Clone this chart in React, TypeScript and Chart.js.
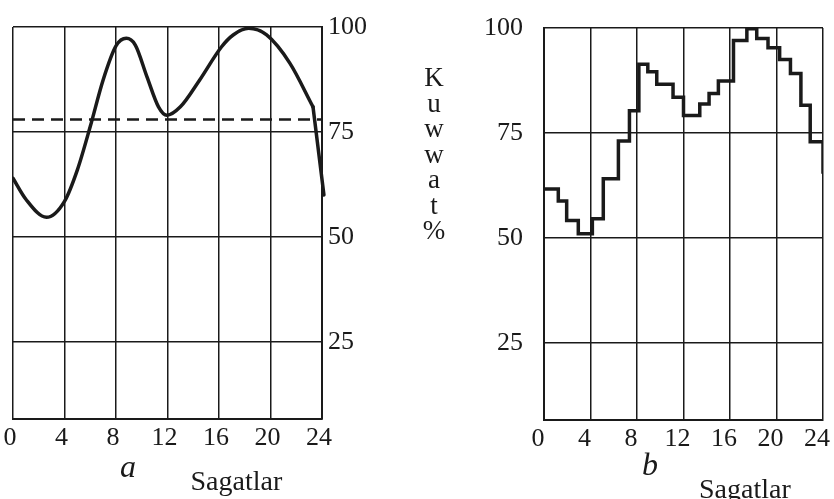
import React, { useEffect, useRef } from "react";
import { Chart, registerables } from "chart.js";

Chart.register(...registerables);

// ---- data ----
const hourTicks = [0, 4, 8, 12, 16, 20, 24];
const powerTicks = [25, 50, 75, 100];

// chart a: smooth daily load curve
const curveHours = [0, 1, 2.6, 4, 5, 6, 7, 8, 8.8, 9.5, 10.4, 11.3, 11.95, 13, 14.5, 16.2, 17.1, 18.3, 19.7, 21.5, 23.3];
const curveValues = [64, 59, 54.7, 58.5, 66, 76.3, 87.4, 95.5, 97.3, 95.7, 88.2, 81, 79, 81, 87.4, 95.3, 98.1, 99.7, 98.1, 91.4, 81];
// final steep drop of curve a
const dropHours = [23.3, 24.15];
const dropValues = [81, 60];
// dashed average line of chart a
const averageHours = [0, 24];
const averageValues = [78, 78];

// chart b: stepped load graph (start hour of each step, its level)
const stepHours = [0, 1.23, 1.95, 2.95, 4.16, 5.1, 6.4, 7.35, 8.16, 8.93, 9.7, 11.1, 12.0, 13.4, 14.2, 15.0, 16.3, 17.45, 18.3, 19.27, 20.27, 21.2, 22.1, 22.9, 24];
const stepValues = [61.7, 58.8, 54.2, 51.0, 54.6, 64.1, 73.1, 80.3, 91.4, 89.6, 86.6, 83.5, 79.2, 81.9, 84.4, 87.4, 97.0, 99.8, 97.5, 95.3, 92.5, 89.2, 81.6, 72.9, 65.3];

const axisTitle = "Kuwwat%";
const xTitle = "Sagatlar";
const leftLetter = "a";
const rightLetter = "b";

const FONT = "'Liberation Serif', 'Times New Roman', serif";
const INK = "#1a1a1a";

function zip(xs: number[], ys: number[]) {
  return xs.map((x, i) => ({ x, y: ys[i] }));
}

function scales(side: "left" | "right") {
  const isLeft = side === "left";
  return {
    x: {
      type: "linear" as const,
      position: "bottom" as const,
      min: 0,
      max: 24,
      afterBuildTicks: (s: any) => {
        s.ticks = hourTicks.map((v) => ({ value: v }));
      },
      afterFit: (s: any) => {
        s.height = isLeft ? 80 : 79;
        s.paddingLeft = 0;
        s.paddingRight = 0;
      },
      grid: { color: INK, lineWidth: 1.5, drawTicks: false },
      border: { color: INK, width: 2 },
      ticks: {
        font: { family: FONT, size: 26 },
        color: INK,
        padding: 4,
        labelOffset: isLeft ? -3 : -6,
        maxRotation: 0,
        autoSkip: false,
      },
    },
    y: {
      type: "linear" as const,
      position: (isLeft ? "right" : "left") as any,
      min: 6.7,
      max: 100,
      afterBuildTicks: (s: any) => {
        s.ticks = powerTicks.map((v) => ({ value: v }));
      },
      afterFit: (s: any) => {
        s.width = isLeft ? 98 : 74;
        s.paddingTop = 0;
        s.paddingBottom = 0;
      },
      grid: { color: INK, lineWidth: 1.5, drawTicks: false },
      border: { color: INK, width: 2 },
      ticks: {
        font: { family: FONT, size: 26 },
        color: INK,
        padding: isLeft ? 6 : 21,
      },
    },
  };
}

export default function App() {
  const leftRef = useRef<HTMLCanvasElement>(null);
  const rightRef = useRef<HTMLCanvasElement>(null);

  useEffect(() => {
    const common = {
      responsive: false,
      animation: false as const,
      plugins: { legend: { display: false }, tooltip: { enabled: false } },
      elements: { point: { radius: 0 } },
    };
    const left = new Chart(leftRef.current!, {
      type: "line",
      data: {
        datasets: [
          {
            data: zip(curveHours, curveValues),
            borderColor: INK,
            borderWidth: 3.5,
            cubicInterpolationMode: "monotone",
            borderCapStyle: "round",
            borderJoinStyle: "round",
            fill: false,
          },
          {
            data: zip(dropHours, dropValues),
            borderColor: INK,
            borderWidth: 3.5,
            tension: 0,
            borderCapStyle: "round",
            clip: false,
            fill: false,
          },
          {
            data: zip(averageHours, averageValues),
            borderColor: INK,
            borderWidth: 2.5,
            borderDash: [12, 7],
            fill: false,
          },
        ],
      },
      options: {
        ...common,
        layout: { padding: { left: 13, top: 27, right: 0, bottom: 0 } },
        scales: scales("left"),
      } as any,
    });
    const right = new Chart(rightRef.current!, {
      type: "line",
      data: {
        datasets: [
          {
            data: zip(stepHours, stepValues),
            borderColor: INK,
            borderWidth: 3.5,
            stepped: "before",
            borderJoinStyle: "miter",
            fill: false,
          },
        ],
      },
      options: {
        ...common,
        layout: { padding: { left: 0, top: 28, right: 11, bottom: 0 } },
        scales: scales("right"),
      } as any,
    });
    return () => {
      left.destroy();
      right.destroy();
    };
  }, []);

  const textBase: React.CSSProperties = {
    position: "absolute",
    fontFamily: FONT,
    color: INK,
    whiteSpace: "nowrap",
  };

  return (
    <div
      style={{
        position: "absolute",
        left: 0,
        top: 0,
        width: 834,
        height: 499,
        background: "#fff",
        overflow: "hidden",
      }}
    >
      <canvas ref={leftRef} width={420} height={499} style={{ position: "absolute", left: 0, top: 0 }} />
      <canvas ref={rightRef} width={364} height={499} style={{ position: "absolute", left: 470, top: 0 }} />
      <div
        style={{
          ...textBase,
          left: 404,
          top: 65,
          width: 60,
          textAlign: "center",
          fontSize: 27,
          lineHeight: "25.5px",
        }}
      >
        {axisTitle.split("").map((ch, i) => (
          <div key={i}>{ch}</div>
        ))}
      </div>
      <div style={{ ...textBase, left: 120, top: 450, fontSize: 32, lineHeight: "32px", fontStyle: "italic" }}>
        {leftLetter}
      </div>
      <div style={{ ...textBase, left: 642, top: 448, fontSize: 32, lineHeight: "32px", fontStyle: "italic" }}>
        {rightLetter}
      </div>
      <div style={{ ...textBase, left: 190.5, top: 466.5, fontSize: 28, lineHeight: "28px" }}>{xTitle}</div>
      <div style={{ ...textBase, left: 699, top: 474.5, fontSize: 28, lineHeight: "28px" }}>{xTitle}</div>
    </div>
  );
}
